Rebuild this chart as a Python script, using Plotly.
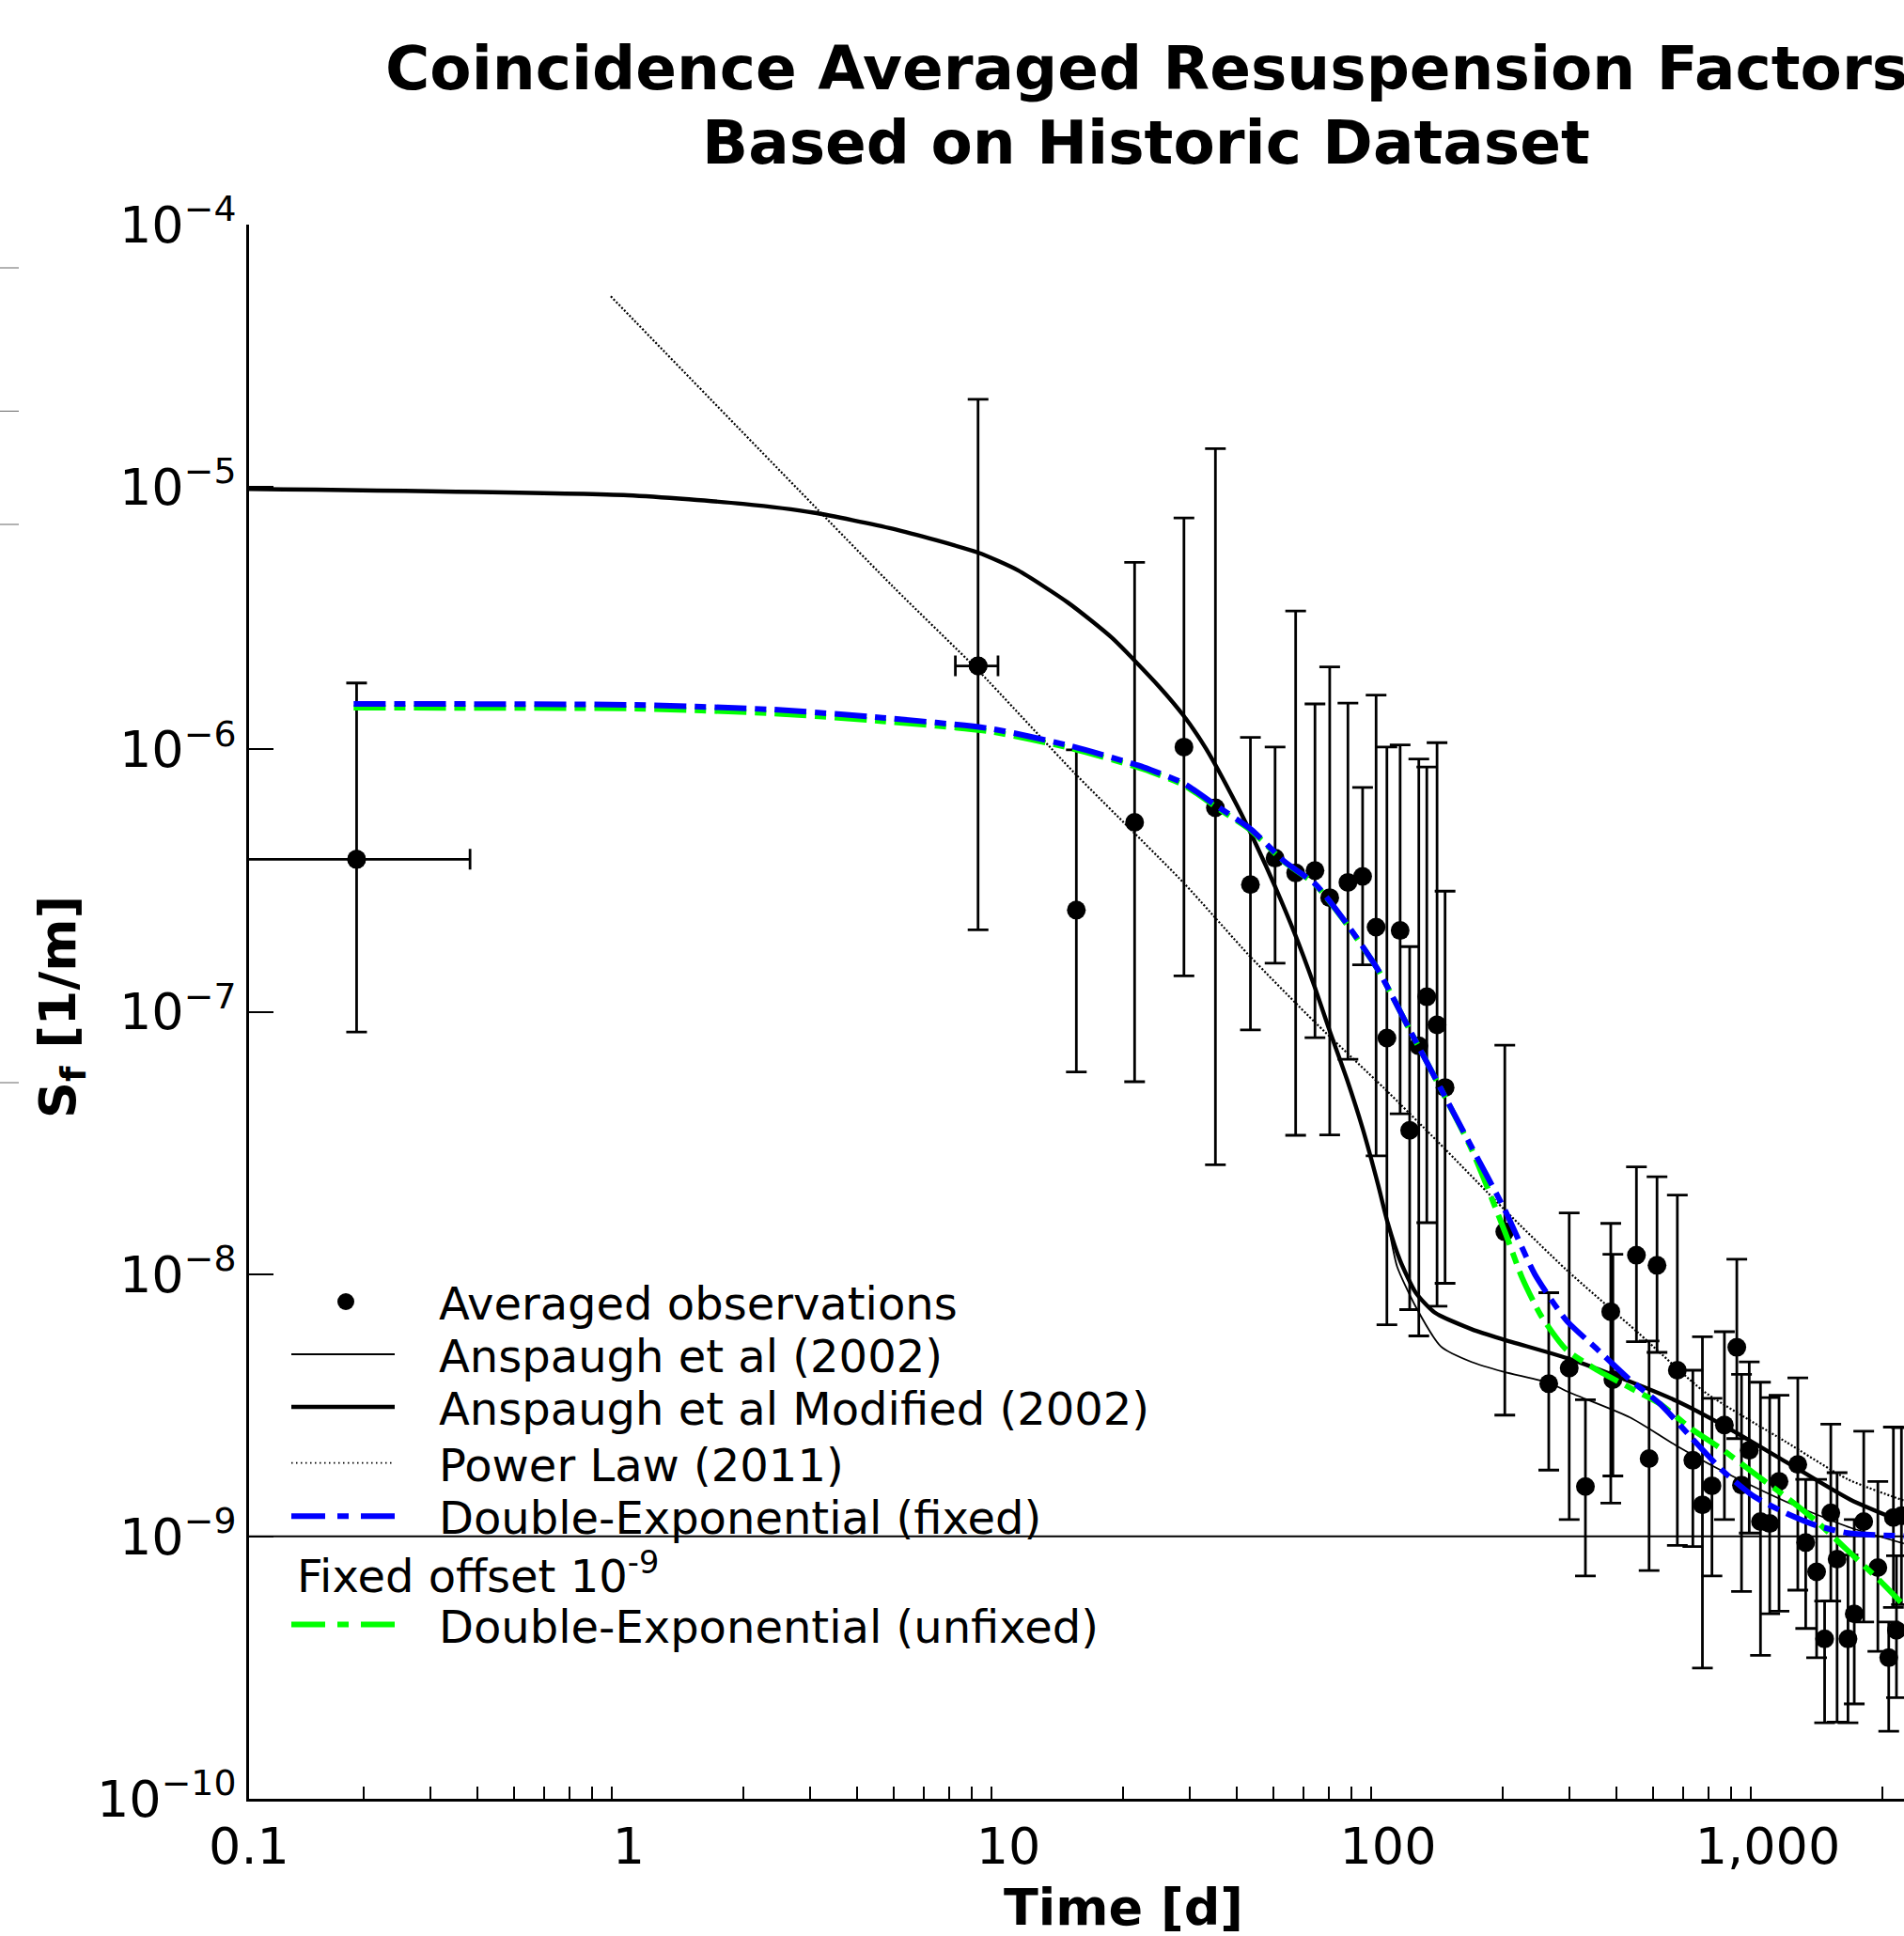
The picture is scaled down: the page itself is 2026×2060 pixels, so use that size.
import plotly.graph_objects as go

# ---------------- data ----------------
# averaged observations: time [d], Sf [1/m], upper and lower error-bar ends
t_obs = [0.192, 8.32, 15.1, 21.5, 29.0, 35.1, 43.4, 50.4, 57.1, 64.2, 70.2, 78.4, 85.7,
         93.0, 99.3, 107.6, 114.0, 120.5, 126.5, 134.6, 141.3, 203, 265, 300, 331, 386,
         391, 451, 487, 511, 578, 635, 673, 713, 769, 829, 853, 894, 957, 1012, 1071,
         1200, 1259, 1345, 1412, 1466, 1523, 1627, 1690, 1790, 1950, 2083, 2143, 2183, 2250]
sf_obs = [3.81e-7, 2.08e-6, 2.44e-7, 5.27e-7, 1.02e-6, 5.99e-7, 3.05e-7, 3.85e-7, 3.38e-7,
          3.45e-7, 2.72e-7, 3.11e-7, 3.28e-7, 2.10e-7, 7.94e-8, 2.04e-7, 3.53e-8, 7.41e-8,
          1.14e-7, 8.91e-8, 5.14e-8, 1.45e-8, 3.82e-9, 4.38e-9, 1.55e-9, 7.19e-9, 3.96e-9,
          1.18e-8, 1.98e-9, 1.08e-8, 4.30e-9, 1.95e-9, 1.32e-9, 1.56e-9, 2.66e-9, 5.26e-9,
          1.57e-9, 2.13e-9, 1.14e-9, 1.12e-9, 1.62e-9, 1.88e-9, 9.48e-10, 7.33e-10, 4.07e-10,
          1.23e-9, 8.19e-10, 4.07e-10, 5.07e-10, 1.14e-9, 7.61e-10, 3.45e-10, 1.18e-9,
          4.39e-10, 1.20e-9]
sf_hi = [1.79e-6, 2.16e-5, 9.95e-7, 5.16e-6, 7.62e-6, 1.40e-5, 1.11e-6, 1.02e-6, 3.37e-6,
         1.49e-6, 2.06e-6, 1.50e-6, 7.16e-7, 1.61e-6, 1.02e-6, 1.04e-6, 1.77e-7, 9.18e-7,
         8.57e-7, 1.06e-6, 2.88e-7, 7.45e-8, 8.49e-9, 1.71e-8, 3.32e-9, 1.56e-8, 1.19e-8,
         2.56e-8, 5.56e-9, 2.35e-8, 2.00e-8, 4.30e-9, 5.77e-9, 3.36e-9, 6.03e-9, 1.14e-8,
         4.15e-9, 4.63e-9, 3.87e-9, 3.38e-9, 3.45e-9, 4.02e-9, 1.65e-9, 1.65e-9, 5.67e-10,
         2.68e-9, 1.75e-9, 8.50e-10, 1.16e-9, 2.52e-9, 1.62e-9, 4.72e-10, 2.61e-9,
         8.44e-10, 2.60e-9]
sf_lo = [8.36e-8, 2.05e-7, 5.89e-8, 5.41e-8, 1.37e-7, 2.61e-8, 8.52e-8, 1.53e-7, 3.38e-8,
         7.96e-8, 3.39e-8, 6.59e-8, 1.51e-7, 2.82e-8, 6.41e-9, 4.08e-8, 7.32e-9, 5.81e-9,
         1.57e-8, 7.54e-9, 9.22e-9, 2.90e-9, 1.79e-9, 1.16e-9, 7.07e-10, 1.34e-9, 1.70e-9,
         5.52e-9, 7.41e-10, 5.03e-9, 9.25e-10, 9.15e-10, 3.15e-10, 7.07e-10, 1.16e-9, 2.36e-9,
         6.17e-10, 1.03e-9, 3.52e-10, 5.07e-10, 5.19e-10, 6.24e-10, 4.46e-10, 3.45e-10,
         1.95e-10, 5.67e-10, 1.96e-10, 1.95e-10, 2.30e-10, 4.72e-10, 3.65e-10, 1.81e-10,
         5.36e-10, 2.43e-10, 5.50e-10]
# horizontal (time) errors of the first two observations
xerr_first = [0.19, 1.07]

# Anspaugh et al Modified (2002)
t_anm = [0.1, 0.994, 2.0, 3.07, 4.96, 8.32, 10.6, 14.37, 18.74, 24.9, 29.0, 33.1, 40.1,
         44.9, 50.4, 57.1, 64.2, 70.2, 77.9, 85.7, 94.2, 99.7, 107.6, 118.3, 132.6, 166.6,
         201.5, 296.3, 387, 579, 768, 1126, 1651, 2283]
sf_anm = [9.83e-6, 9.30e-6, 8.62e-6, 7.98e-6, 6.93e-6, 5.62e-6, 4.81e-6, 3.62e-6, 2.66e-6,
          1.74e-6, 1.338e-6, 1.01e-6, 6.07e-7, 4.34e-7, 3.00e-7, 1.945e-7, 1.234e-7, 8.44e-8,
          5.53e-8, 3.59e-8, 2.18e-8, 1.575e-8, 1.125e-8, 8.49e-9, 7.14e-9, 6.15e-9, 5.63e-9,
          4.78e-9, 4.15e-9, 3.27e-9, 2.64e-9, 1.91e-9, 1.38e-9, 1.13e-9]

# Anspaugh et al (2002)
t_an = [0.1, 0.994, 2.0, 3.07, 4.96, 8.32, 10.6, 14.37, 18.74, 24.9, 29.0, 33.1, 40.1,
        44.9, 50.4, 57.1, 64.2, 70.2, 77.9, 85.7, 94.2, 99.7, 105.6, 118.3, 137.7, 166,
        201.5, 268, 296, 434, 583, 768, 1126, 1651, 2283]
sf_an = [9.83e-6, 9.30e-6, 8.62e-6, 7.98e-6, 6.93e-6, 5.62e-6, 4.81e-6, 3.62e-6, 2.66e-6,
         1.74e-6, 1.338e-6, 1.01e-6, 6.07e-7, 4.34e-7, 3.00e-7, 1.945e-7, 1.234e-7, 8.44e-8,
         5.53e-8, 3.59e-8, 2.18e-8, 1.575e-8, 1.07e-8, 7.5e-9, 5.3e-9, 4.62e-9, 4.24e-9,
         3.83e-9, 3.57e-9, 2.84e-9, 2.19e-9, 1.76e-9, 1.35e-9, 1.08e-9, 9.4e-10]

# Power Law (2011)
t_pl = [0.897, 4.96, 8.32, 14.9, 29.0, 43.2, 64.4, 97.9, 135.1, 203.3, 294.4, 455.5, 678.9,
        1113, 1627, 2283]
sf_pl = [5.33e-5, 4.18e-6, 2.00e-6, 8.15e-7, 3.09e-7, 1.63e-7, 9.07e-8, 5.09e-8, 3.20e-8,
         1.75e-8, 1.04e-8, 5.98e-9, 3.57e-9, 2.30e-9, 1.65e-9, 1.37e-9]

# Double-Exponential (fixed)
t_def = [0.1886, 1.033, 2.42, 4.66, 8.95, 14.6, 22.7, 29.0, 35.1, 43.6, 53.3, 64.4, 77.9,
         94.2, 113.9, 137.7, 166.6, 203.3, 243.4, 294.4, 355.9, 430.3, 520.3, 629.3, 760.8,
         920, 1113, 1346, 1627, 2283]
sf_def = [1.49e-6, 1.477e-6, 1.417e-6, 1.32e-6, 1.20e-6, 1.03e-6, 8.55e-7, 7.41e-7, 6.13e-7,
          4.95e-7, 3.74e-7, 3.06e-7, 2.16e-7, 1.44e-7, 8.55e-8, 5.09e-8, 3.02e-8, 1.75e-8,
          1.00e-8, 6.68e-9, 5.16e-9, 3.99e-9, 3.20e-9, 2.38e-9, 1.78e-9, 1.42e-9, 1.23e-9,
          1.10e-9, 1.03e-9, 1.003e-9]

# Double-Exponential (unfixed)
t_deu = [0.1886, 1.033, 2.42, 4.66, 8.95, 14.6, 22.7, 29.0, 35.1, 43.6, 53.3, 64.4, 77.9,
         94.2, 113.9, 137.7, 166.6, 203.3, 225.6, 253, 294.4, 355.9, 430.3, 520.3, 629.3,
         760.8, 920, 1113, 1346, 1627, 1968, 2283]
sf_deu = [1.44e-6, 1.43e-6, 1.37e-6, 1.28e-6, 1.17e-6, 1.01e-6, 8.4e-7, 7.3e-7, 6.05e-7,
          4.9e-7, 3.72e-7, 3.05e-7, 2.15e-7, 1.44e-7, 8.55e-8, 5.09e-8, 2.95e-8, 1.445e-8,
          9.66e-9, 6.93e-9, 5.16e-9, 4.30e-9, 3.71e-9, 3.20e-9, 2.57e-9, 2.14e-9, 1.74e-9,
          1.42e-9, 1.14e-9, 8.82e-10, 6.81e-10, 5.46e-10]

fixed_offset = 1e-9

x_tick_vals = [0.1, 1, 10, 100, 1000]
x_tick_text = ["0.1", "1", "10", "100", "1,000"]
y_tick_exps = [-10, -9, -8, -7, -6, -5, -4]

legend_labels = ["Averaged observations", "Anspaugh et al (2002)",
                 "Anspaugh et al Modified (2002)", "Power Law (2011)",
                 "Double-Exponential (fixed)", "Fixed offset 10<sup>-9</sup>",
                 "Double-Exponential (unfixed)"]

# ---------------- geometry ----------------
W, H = 2026, 2060
L, T, B = 265, 239, 146
PLOT_W = W - L
PLOT_H = H - T - B
X_RANGE = [-1, -1 + PLOT_W / 404.0]
FONT = "DejaVu Sans"


def px(xp):
    return (xp - L) / PLOT_W


def py(yp):
    return (H - B - yp) / PLOT_H


fig = go.Figure()

# observations with vertical error bars
fig.add_trace(go.Scatter(
    x=t_obs, y=sf_obs, mode="markers",
    marker=dict(color="black", size=20, symbol="circle"),
    error_y=dict(type="data", symmetric=False,
                 array=[h - v for h, v in zip(sf_hi, sf_obs)],
                 arrayminus=[v - l for v, l in zip(sf_obs, sf_lo)],
                 color="black", thickness=2.8, width=11),
    showlegend=False, hoverinfo="skip"))

# horizontal error bars for the first two observations
fig.add_trace(go.Scatter(
    x=t_obs[:2], y=sf_obs[:2], mode="markers",
    marker=dict(color="black", size=20, symbol="circle"),
    error_x=dict(type="data", array=xerr_first, color="black", thickness=2.8, width=11),
    showlegend=False, hoverinfo="skip"))

# fixed offset line
fig.add_trace(go.Scatter(
    x=[10 ** X_RANGE[0], 10 ** X_RANGE[1]], y=[fixed_offset, fixed_offset], mode="lines",
    line=dict(color="black", width=2), showlegend=False, hoverinfo="skip"))

fig.add_trace(go.Scatter(x=t_an, y=sf_an, mode="lines", line_shape="spline",
                         line=dict(color="black", width=1.8, smoothing=0.6),
                         showlegend=False, hoverinfo="skip"))
fig.add_trace(go.Scatter(x=t_anm, y=sf_anm, mode="lines", line_shape="spline",
                         line=dict(color="black", width=4.4, smoothing=0.6),
                         showlegend=False, hoverinfo="skip"))
fig.add_trace(go.Scatter(x=t_pl, y=sf_pl, mode="lines", line_shape="spline",
                         line=dict(color="black", width=2.2, dash="2px,2px", smoothing=0.6),
                         showlegend=False, hoverinfo="skip"))
DASHDOT = "34px,9px,12px,9px"
fig.add_trace(go.Scatter(x=t_deu, y=sf_deu, mode="lines", line_shape="spline",
                         line=dict(color="#00ff00", width=6, dash=DASHDOT, smoothing=0.6),
                         showlegend=False, hoverinfo="skip"))
fig.add_trace(go.Scatter(x=t_def, y=sf_def, mode="lines", line_shape="spline",
                         line=dict(color="#0000ff", width=6, dash=DASHDOT, smoothing=0.6),
                         showlegend=False, hoverinfo="skip"))

# ---------------- manual legend ----------------
shapes = []
annotations = []
row_y = [1385, 1441, 1497, 1556.7, 1613.3, 1671.5, 1728.5]
hx0, hx1, text_x = 310, 420, 465
# marker entry
shapes.append(dict(type="circle", xref="paper", yref="paper", xsizemode="pixel",
                   ysizemode="pixel", xanchor=px(368), yanchor=py(row_y[0]),
                   x0=-9, x1=9, y0=-9, y1=9,
                   fillcolor="black", line=dict(color="black", width=0)))
handle_styles = [
    (1, dict(color="black", width=1.8)),
    (2, dict(color="black", width=4.4)),
    (3, dict(color="black", width=1.8, dash="1.5px,3.5px")),
    (4, dict(color="#0000ff", width=6, dash="36px,13px,12px,13px")),
    (6, dict(color="#00ff00", width=6, dash="36px,13px,12px,13px")),
]
for i, st in handle_styles:
    shapes.append(dict(type="line", xref="paper", yref="paper",
                       x0=px(hx0), x1=px(hx1), y0=py(row_y[i]), y1=py(row_y[i]), line=st))
for i, lab in enumerate(legend_labels):
    xl = 314 if i == 5 else text_x
    annotations.append(dict(text=lab, xref="paper", yref="paper", x=px(xl), y=py(row_y[i] + 2),
                            xanchor="left", yanchor="middle", showarrow=False,
                            font=dict(family=FONT, size=48, color="black")))

# small stray marks at the far left edge of the picture
for yy in [285, 437.5, 558, 1152]:
    shapes.append(dict(type="line", xref="paper", yref="paper", x0=px(0), x1=px(20),
                       y0=py(yy), y1=py(yy), line=dict(color="#666666", width=1)))

# titles
annotations.append(dict(text="<b>Coincidence Averaged Resuspension Factors</b>", xref="paper",
                        yref="paper", x=px(1219.5), y=py(72.5), xanchor="center",
                        yanchor="middle", showarrow=False,
                        font=dict(family=FONT, size=64.5, color="black")))
annotations.append(dict(text="<b>Based on Historic Dataset</b>", xref="paper", yref="paper",
                        x=px(1219.5), y=py(151), xanchor="center", yanchor="middle",
                        showarrow=False, font=dict(family=FONT, size=64.5, color="black")))
annotations.append(dict(text="<b>Time [d]</b>", xref="paper", yref="paper", x=px(1195),
                        y=py(2030), xanchor="center", yanchor="middle", showarrow=False,
                        font=dict(family=FONT, size=54, color="black")))
annotations.append(dict(text="<b>S<sub>f</sub> [1/m]</b>", xref="paper", yref="paper",
                        x=px(65), y=py(1072), xanchor="center", yanchor="middle",
                        textangle=-90, showarrow=False,
                        font=dict(family=FONT, size=54, color="black")))

minor_vals = [m * 10 ** e for e in range(-1, 4) for m in range(2, 10)]

fig.update_layout(
    width=W, height=H,
    margin=dict(l=L, r=0, t=T, b=B, pad=0),
    paper_bgcolor="white", plot_bgcolor="white",
    font=dict(family=FONT, color="black"),
    showlegend=False,
    shapes=shapes, annotations=annotations,
    xaxis=dict(type="log", range=X_RANGE, showgrid=False, zeroline=False,
               showline=True, linecolor="black", linewidth=2.5,
               ticks="", tickmode="array", tickvals=x_tick_vals, ticktext=x_tick_text,
               tickfont=dict(family=FONT, size=54, color="black"), ticklabelstandoff=1,
               minor=dict(ticks="inside", ticklen=13, tickwidth=2, tickcolor="black",
                          tickmode="array", tickvals=minor_vals, showgrid=False)),
    yaxis=dict(type="log", range=[-10, -4], showgrid=False, zeroline=False,
               showline=True, linecolor="black", linewidth=2.5,
               ticks="inside", ticklen=26, tickwidth=2, tickcolor="black",
               tickmode="array", tickvals=[10.0 ** e for e in y_tick_exps],
               ticktext=["10<sup>\u2212%d</sup>" % (-e) for e in y_tick_exps],
               tickfont=dict(family=FONT, size=54, color="black"), ticklabelstandoff=0),
)

fig.write_html("out.html", config={"displayModeBar": False},
               post_script="document.body.style.margin='0px';"
                           "document.body.style.overflow='hidden';")
